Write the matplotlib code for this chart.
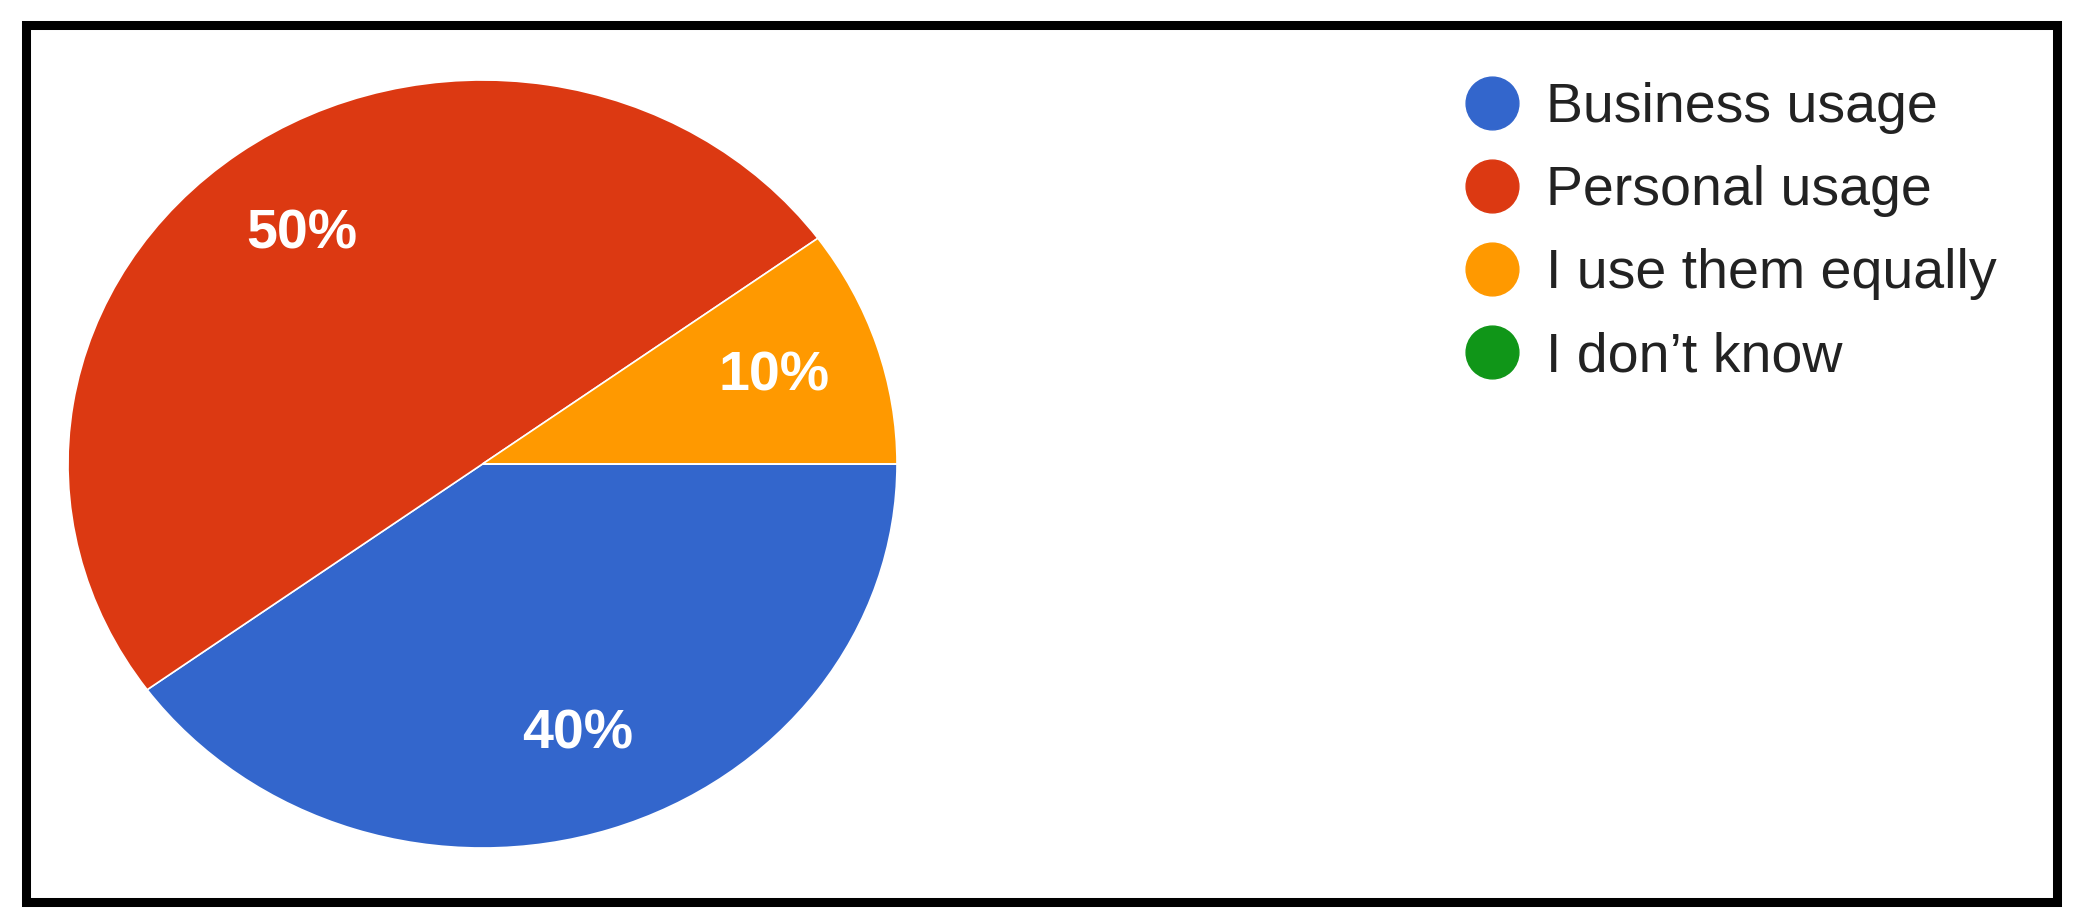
import matplotlib
matplotlib.use("Agg")
import matplotlib.pyplot as plt
from matplotlib.lines import Line2D
from matplotlib.patches import Rectangle

plt.rcParams['font.family'] = ['Liberation Sans', 'DejaVu Sans']

# ------------------------------
# Data
# ------------------------------
categories = ["Business usage", "Personal usage", "I use them equally", "I don\u2019t know"]
shares = [40, 50, 10, 0]
colors = ["#3366CC", "#DC3912", "#FF9900", "#109618"]

W, H = 2084, 924
fig = plt.figure(figsize=(W / 100, H / 100), dpi=100)

# pie is stretched a bit horizontally, like the screenshot
ax = fig.add_axes([68 / W, (H - 848) / H, 829 / W, 768 / H])


def pct_label(p):
    return "%d%%" % round(p) if p >= 0.5 else ""


ax.pie(
    shares,
    colors=colors,
    startangle=0,
    counterclock=False,
    autopct=pct_label,
    pctdistance=0.74,
    radius=1.0,
    wedgeprops=dict(edgecolor="white", linewidth=1.2),
    textprops=dict(color="white", fontsize=40, fontweight="bold"),
)
ax.set_aspect("auto")
ax.set_xlim(-1, 1)
ax.set_ylim(-1, 1)
ax.axis("off")

# ---- legend ----
handles = [
    Line2D([], [], linestyle="none", marker="o", markersize=38,
           markerfacecolor=c, markeredgecolor=c)
    for c in colors
]
fig.legend(
    handles, categories,
    loc="upper left",
    bbox_to_anchor=(1464 / W, 1 - 82 / H),
    frameon=False,
    fontsize=40,
    labelcolor="#222222",
    handlelength=1.0,
    handletextpad=0.47,
    labelspacing=0.56,
    borderpad=0.0,
    borderaxespad=0.0,
)

# ---- black frame round the whole thing ----
fig.patches.append(Rectangle(
    (25.5 / W, 1 - 901.5 / H), 2031 / W, 877 / H,
    transform=fig.transFigure, fill=False, edgecolor="black", linewidth=6.5,
))

fig.savefig("out.png", dpi=100, facecolor="white")
